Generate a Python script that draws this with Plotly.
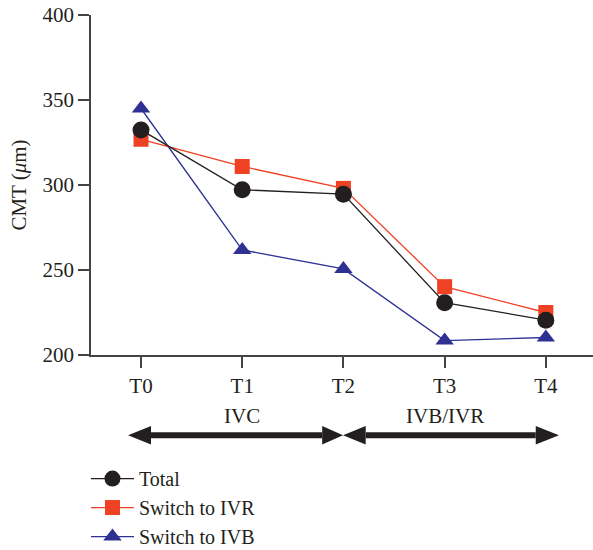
import plotly.graph_objects as go

categories = ["T0", "T1", "T2", "T3", "T4"]
total = [332.4, 297.2, 294.6, 230.8, 220.5]
switch_ivr = [326.9, 310.9, 298.0, 240.2, 225.0]
switch_ivb = [345.0, 261.8, 250.6, 208.5, 210.3]
y_ticks = [200, 250, 300, 350, 400]
phase_labels = ["IVC", "IVB/IVR"]

FONT = "Liberation Serif"
BLACK = "#231f20"
RED = "#ef4123"
BLUE = "#2e3192"

fig = go.Figure()
fig.add_trace(go.Scatter(x=categories, y=switch_ivb, name="Switch to IVB", mode="lines+markers",
                         line=dict(color=BLUE, width=1.3),
                         marker=dict(symbol="triangle-up", size=16, color=BLUE)))
fig.add_trace(go.Scatter(x=categories, y=switch_ivr, name="Switch to IVR", mode="lines+markers",
                         line=dict(color=RED, width=1.3),
                         marker=dict(symbol="square", size=15, color=RED)))
fig.add_trace(go.Scatter(x=categories, y=total, name="Total", mode="lines+markers",
                         line=dict(color=BLACK, width=1.3),
                         marker=dict(symbol="circle", size=17, color=BLACK)))

shapes = []
yc = -0.236
hh = 0.027
lw = 6
def arrow(x0, x1, xb0, xb1):
    shapes.append(dict(type="line", xref="x", yref="paper", x0=xb0, x1=xb1, y0=yc, y1=yc,
                       line=dict(color=BLACK, width=lw)))
    shapes.append(dict(type="path", xref="x", yref="paper",
                       path=f"M {x0} {yc} L {xb0} {yc+hh} L {xb0} {yc-hh} Z",
                       fillcolor=BLACK, line=dict(color=BLACK, width=0)))
    shapes.append(dict(type="path", xref="x", yref="paper",
                       path=f"M {x1} {yc} L {xb1} {yc+hh} L {xb1} {yc-hh} Z",
                       fillcolor=BLACK, line=dict(color=BLACK, width=0)))

arrow(-0.128, 1.996, 0.099, 1.79)
arrow(1.996, 4.13, 2.22, 3.90)

annotations = [
    dict(x=1, y=-0.18, xref="x", yref="paper", yanchor="middle", text=phase_labels[0],
         showarrow=False, font=dict(family=FONT, size=21, color=BLACK)),
    dict(x=3, y=-0.18, xref="x", yref="paper", yanchor="middle", text=phase_labels[1],
         showarrow=False, font=dict(family=FONT, size=21, color=BLACK)),
]

fig.update_layout(
    width=593, height=550,
    margin=dict(l=91, r=0, t=15, b=195, autoexpand=False),
    plot_bgcolor="white", paper_bgcolor="white",
    font=dict(family=FONT, size=20, color=BLACK),
    shapes=shapes, annotations=annotations,
    showlegend=True,
    legend=dict(x=-0.01, y=-0.306, xanchor="left", yanchor="top", traceorder="reversed",
                itemwidth=43,
                font=dict(family=FONT, size=20, color=BLACK), tracegroupgap=0,
                bgcolor="rgba(0,0,0,0)"),
    xaxis=dict(type="category", range=[-0.494, 4.466], showgrid=False, zeroline=False,
               showline=True, linecolor="#444", linewidth=1.5,
               ticks="outside", ticklen=11, tickwidth=1.5, tickcolor="#444",
               ticklabelstandoff=0,
               tickfont=dict(family=FONT, size=21, color=BLACK)),
    yaxis=dict(range=[200, 400], tickvals=y_ticks, showgrid=False, zeroline=False,
               showline=True, linecolor="#444", linewidth=1.5,
               ticks="outside", ticklen=11, tickwidth=1.5, tickcolor="#444",
               tickfont=dict(family=FONT, size=21, color=BLACK),
               title=dict(text="CMT (<i>μ</i>m)", font=dict(family=FONT, size=21, color=BLACK),
                          standoff=10)),
)

fig.write_html("out.html")
